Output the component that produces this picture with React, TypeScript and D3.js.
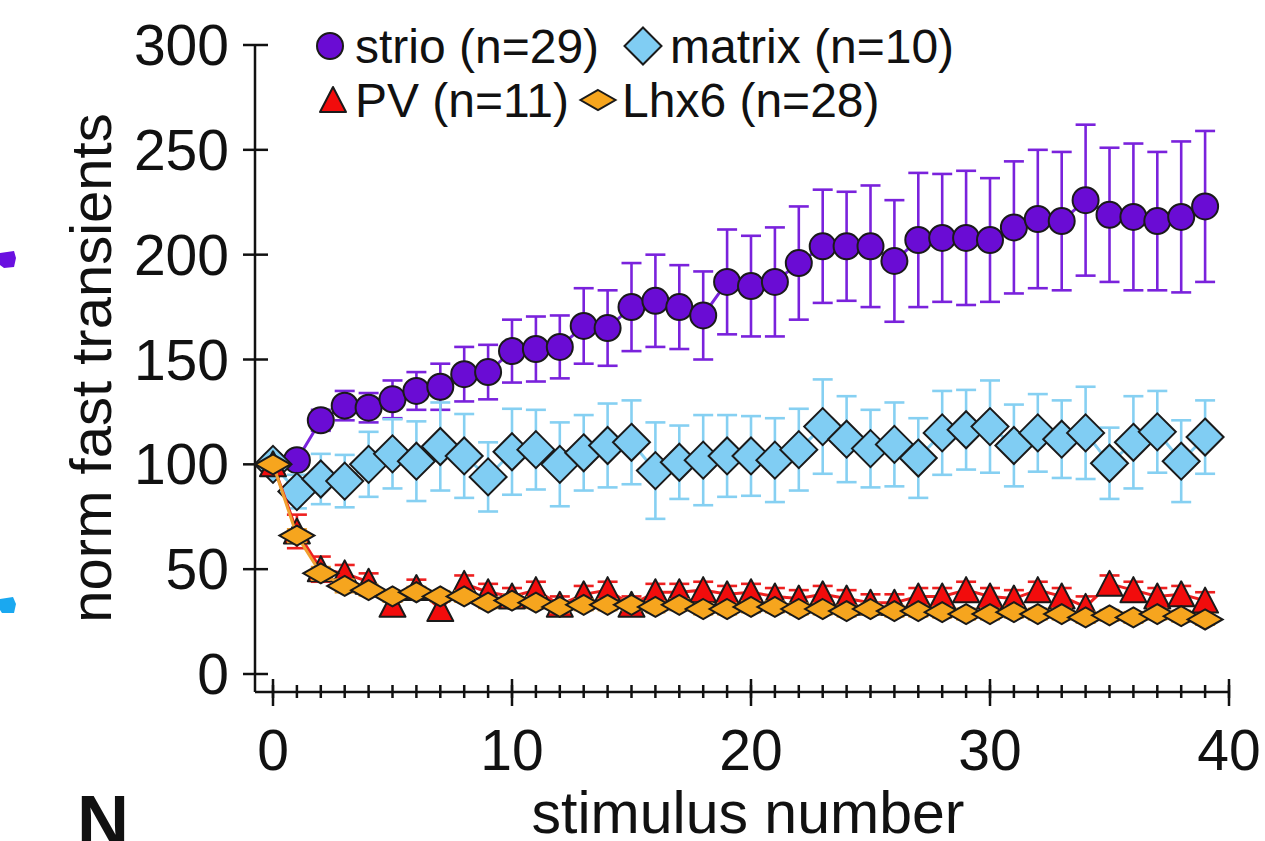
import React from "react";
import * as d3 from "d3";

const stimulus = d3.range(0, 40);
const strioMean = [100,102,121,128,127,131,135,137,143,144,154,155,156,166,165,175,178,175,171,187,185,187,196,204,204,204,197,207,208,208,207,213,217,216,226,219,218,216,218,223];
const strioErr = [0,3,5,7,7,9,9,11,13,13,15,15.5,15,18,18,21,22,20,21,25,24,26,27,27,26,29,29,32,30.5,32,29.5,31.5,33,33,36,32,35,33,36,36];
const matrixMean = [100,87,93,92,100,105,101.5,108.5,104,94,106,107,100,105.5,109,110.5,97,101,102,104,104,102,107,118,112,107.5,109.5,103,115,116.5,118,109,115,112,115,100.5,110.5,115.5,101.5,113];
const matrixErr = [0,8,12,12.5,15.5,16.5,19,21,20,16.5,20.5,19,20,18,20,20,23,17.5,21.5,19.5,19,20,19.5,22.5,20.5,18.5,20,19,20,19,22,19.5,18.5,18.5,22,17,22,19.5,19.5,17.5];
const pvMean = [100,68,50,48,44,33,41,31,43,39,37,40,33,38,40,33,39,39,40,38,39,37,36,38,36,34,34,37,37,40,37,36,40,37,32,43,40,37,38,35];
const pvErr = [0,8,6,4,4,4,4,4,4,4,4,4,4,4,4,4,4,4,4,4,4,4,4,4,4,4,4,4,4,4,4,4,4,4,5,4,4,4,4,4];
const lhx6Mean = [100,66,48,42,40,37,39,37,37,34,35,34,32,33,33,33,32,33,31,31,32,32,31,31,30,31,30,30,29.5,28.6,28.6,29.5,28.6,28.6,27,28,27,28.6,27.6,26];
const lhx6Err = [0,3,3,3,2.5,2.5,2.5,2.5,2.5,2.5,2.5,2.5,2.5,2.5,2.5,2.5,2.5,2.5,2.5,2.5,2.5,2.5,2.5,2.5,2.5,2.5,2.5,2.5,2.5,2.5,2.5,2.5,2.5,2.5,2.5,2.5,2.5,2.5,2.5,2.5];

const yTicks = [0, 50, 100, 150, 200, 250, 300];
const xMajorTicks = [0, 10, 20, 30, 40];
const xMinorTicks = d3.range(0, 41);

const legendLabels = ["strio (n=29)", "matrix (n=10)", "PV (n=11)", "Lhx6 (n=28)"];
const xTitle = "stimulus number";
const yTitle = "norm fast transients";

const FONT = "Arial, 'Liberation Sans', Helvetica, sans-serif";

type Shape = "circle" | "diamond" | "triangle" | "flatdiamond";

function marker(shape: Shape, cx: number, cy: number, fill: string, key: any) {
  const stroke = "#1a1a1a";
  const sw = 2;
  if (shape === "circle") {
    return <circle key={key} cx={cx} cy={cy} r={13} fill={fill} stroke={stroke} strokeWidth={sw} />;
  }
  if (shape === "diamond") {
    const h = 18.5;
    return (
      <path key={key} d={`M${cx},${cy - h}L${cx + h},${cy}L${cx},${cy + h}L${cx - h},${cy}Z`} fill={fill} stroke={stroke} strokeWidth={sw} />
    );
  }
  if (shape === "flatdiamond") {
    const w = 17.5, h = 10;
    return (
      <path key={key} d={`M${cx},${cy - h}L${cx + w},${cy}L${cx},${cy + h}L${cx - w},${cy}Z`} fill={fill} stroke={stroke} strokeWidth={sw} />
    );
  }
  const w = 13, h = 12;
  return (
    <path key={key} d={`M${cx},${cy - h - 1}L${cx + w},${cy + h}L${cx - w},${cy + h}Z`} fill={fill} stroke={stroke} strokeWidth={sw} strokeLinejoin="round" />
  );
}

export default function App() {
  const x = d3.scaleLinear().domain([0, 40]).range([273, 1229]);
  const y = d3.scaleLinear().domain([0, 300]).range([674, 45]);
  const line = d3.line<number>().x((_, i) => x(stimulus[i])).y((d) => y(d));

  const series = [
    { mean: strioMean, err: strioErr, shape: "circle" as Shape, fill: "#6a0cd4", errColor: "#7a22dc", lineColor: "#7a22dc" },
    { mean: matrixMean, err: matrixErr, shape: "diamond" as Shape, fill: "#80cdf3", errColor: "#86d0f2", lineColor: "#86d0f2" },
    { mean: pvMean, err: pvErr, shape: "triangle" as Shape, fill: "#f20c0c", errColor: "#ee2020", lineColor: "#ee2020" },
    { mean: lhx6Mean, err: lhx6Err, shape: "flatdiamond" as Shape, fill: "#f6a51e", errColor: "#f0a030", lineColor: "#f0a030" },
  ];

  const capW = 10;

  return (
    <svg width={1265} height={841} style={{ position: "absolute", left: 0, top: 0, background: "#fff" }} fontFamily={FONT}>
      <rect x={0} y={0} width={1265} height={841} fill="#ffffff" />
      {/* fragments of neighbouring panels */}
      <path d="M0,253 L14,251 L16,258 L14,267 L4,268 L0,265 Z" fill="#6a10e0" />
      <path d="M0,599 L13,597 L16,604 L14,613 L2,613 L0,610 Z" fill="#1aa8f0" />
      <text x={77} y={846} fontSize={72} fontWeight="bold" fill="#111">N</text>

      {/* axes */}
      <g stroke="#111" strokeWidth={2.5} fill="none">
        <line x1={255} y1={45} x2={255} y2={692} />
        <line x1={255} y1={692} x2={x(40)} y2={692} />
        {yTicks.map((t) => (
          <line key={"yt" + t} x1={243} x2={268} y1={y(t)} y2={y(t)} />
        ))}
        {xMinorTicks.map((t) => (
          <line key={"xm" + t} x1={x(t)} x2={x(t)} y1={685} y2={698} />
        ))}
        {xMajorTicks.map((t) => (
          <line key={"xM" + t} x1={x(t)} x2={x(t)} y1={679} y2={706} />
        ))}
      </g>
      <g fontSize={57} fill="#111">
        {yTicks.map((t) => (
          <text key={"yl" + t} x={229} y={y(t)} textAnchor="end" dominantBaseline="central">{t}</text>
        ))}
        {xMajorTicks.map((t) => (
          <text key={"xl" + t} x={x(t)} y={770} textAnchor="middle">{t}</text>
        ))}
      </g>
      <text x={748} y={833} fontSize={59} textAnchor="middle" fill="#111">{xTitle}</text>
      <text transform="translate(111,368) rotate(-90)" fontSize={58} textAnchor="middle" fill="#111">{yTitle}</text>

      {/* data */}
      {series.map((s, si) => (
        <g key={"s" + si}>
          <path d={line(s.mean) || ""} fill="none" stroke={s.lineColor} strokeWidth={3} />
          <g stroke={s.errColor} strokeWidth={2.6}>
            {s.mean.map((m, i) =>
              s.err[i] > 0 ? (
                <g key={i}>
                  <line x1={x(stimulus[i])} x2={x(stimulus[i])} y1={y(m + s.err[i])} y2={y(m - s.err[i])} />
                  <line x1={x(stimulus[i]) - capW} x2={x(stimulus[i]) + capW} y1={y(m + s.err[i])} y2={y(m + s.err[i])} />
                  <line x1={x(stimulus[i]) - capW} x2={x(stimulus[i]) + capW} y1={y(m - s.err[i])} y2={y(m - s.err[i])} />
                </g>
              ) : null
            )}
          </g>
          {s.mean.map((m, i) => marker(s.shape, x(stimulus[i]), y(m), s.fill, i))}
        </g>
      ))}

      {/* legend */}
      <g fontSize={48} fill="#111">
        {marker("circle", 330, 46, series[0].fill, "lg0")}
        <text x={355} y={63}>{legendLabels[0]}</text>
        {marker("diamond", 643, 46, series[1].fill, "lg1")}
        <text x={670} y={63}>{legendLabels[1]}</text>
        {marker("triangle", 333, 100, series[2].fill, "lg2")}
        <text x={355} y={117}>{legendLabels[2]}</text>
        {marker("flatdiamond", 598, 100, series[3].fill, "lg3")}
        <text x={622} y={117}>{legendLabels[3]}</text>
      </g>
    </svg>
  );
}
